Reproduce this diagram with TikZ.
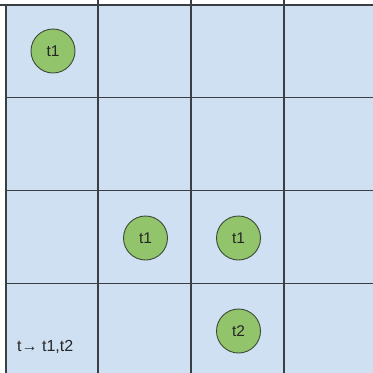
\documentclass[tikz,border=0pt]{standalone}
\usepackage{fontspec}
\setmainfont{Liberation Sans}
\definecolor{cellblue}{HTML}{CFE0F2}
\definecolor{tokgreen}{HTML}{92C46B}
\definecolor{gridline}{HTML}{3A3F44}
\definecolor{tokline}{HTML}{3C4A36}
\tikzset{
  token/.style={circle, fill=tokgreen, draw=tokline, line width=0.9pt, minimum size=44pt, inner sep=0pt, font=\fontsize{15.5}{17}\selectfont, text=black!85},
  gridl/.style={draw=gridline, line width=1.1pt},
  label/.style={font=\fontsize{16}{18}\selectfont, text=black!85, inner sep=0pt}
}
\begin{document}
\begin{tikzpicture}[x=1pt,y=-1pt]
\useasboundingbox (0,0) rectangle (373,373);
\fill[white] (0,0) rectangle (373,373);
\fill[cellblue] (6,5) rectangle (373,373);
% vertical lines
\coordinate (v0t) at (6,5); \coordinate (v0b) at (6,373);
\coordinate (v1t) at (98,0); \coordinate (v1b) at (98,373);
\coordinate (v2t) at (191,0); \coordinate (v2b) at (191,373);
\coordinate (v3t) at (284,0); \coordinate (v3b) at (284,373);
\draw[gridl] (v0t) -- (v0b);
\draw[gridl] (v1t) -- (v1b);
\draw[gridl] (v2t) -- (v2b);
\draw[gridl] (v3t) -- (v3b);
% horizontal lines
\coordinate (h0l) at (6,5); \coordinate (h0r) at (373,5);
\coordinate (h1l) at (6,97.5); \coordinate (h1r) at (373,97.5);
\coordinate (h2l) at (6,190.5); \coordinate (h2r) at (373,190.5);
\coordinate (h3l) at (6,283.5); \coordinate (h3r) at (373,283.5);
\draw[draw=gridline, line width=2.2pt] (0,5) -- (h0r);
\draw[gridl] (h1l) -- (h1r);
\draw[gridl] (h2l) -- (h2r);
\draw[gridl] (h3l) -- (h3r);
% tokens
\node[token] (a) at (53,51) {t1};
\node[token] (b) at (145.5,238) {t1};
\node[token] (c) at (238.5,238) {t1};
\node[token] (d) at (238.5,331) {t2};
\node[label, anchor=west] (rule) at (17,347) {t→ t1,t2};
\end{tikzpicture}
\end{document}
